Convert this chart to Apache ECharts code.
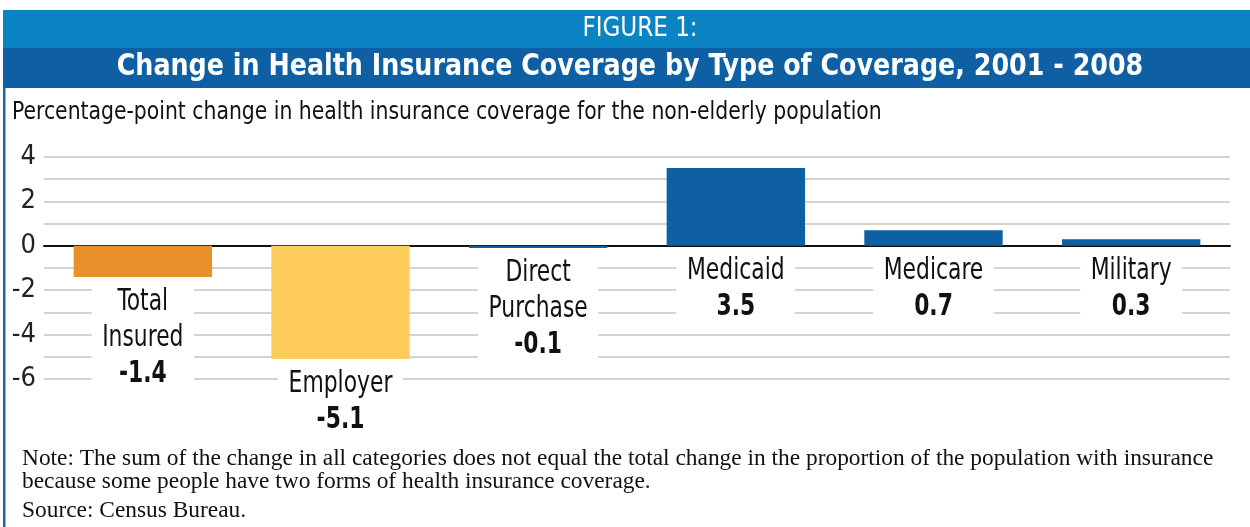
<!DOCTYPE html>
<html>
<head>
<meta charset="utf-8">
<script src="https://cdn.jsdelivr.net/npm/echarts@6/dist/echarts.min.js"></script>
<style>
html,body{margin:0;padding:0;background:#fff;}
#chart{width:1250px;height:527px;}
</style>
</head>
<body>
<div id="chart"></div>
<script>
const categories = ['Total\nInsured', 'Employer', 'Direct\nPurchase', 'Medicaid', 'Medicare', 'Military'];
const values = [-1.4, -5.1, -0.1, 3.5, 0.7, 0.3];
const barColors = ['#E8912A', '#FECC5C', '#0F5FA3', '#0F5FA3', '#0F5FA3', '#0F5FA3'];
const yTicks = [-6, -4, -2, 0, 2, 4];
const figureLabel = 'FIGURE 1:';
const titleText = 'Change in Health Insurance Coverage by Type of Coverage, 2001 - 2008';
const subtitleText = 'Percentage-point change in health insurance coverage for the non-elderly population';
const noteLines = [
  'Note: The sum of the change in all categories does not equal the total change in the proportion of the population with insurance',
  'because some people have two forms of health insurance coverage.'
];
const sourceText = 'Source: Census Bureau.';

const narrow = '"DejaVu Sans Condensed", "DejaVu Sans", sans-serif';
const serif = '"Liberation Serif", "DejaVu Serif", serif';

const chart = echarts.init(document.getElementById('chart'), null, {renderer: 'canvas'});

function labelText(i) {
  const lines = categories[i].split('\n').map(s => '{n|' + s + '}');
  lines.push('{v|' + values[i].toFixed(1) + '}');
  return lines.join('\n');
}

const option = {
  backgroundColor: '#fff',
  animation: false,
  grid: {left: 44, right: 20, top: 157, bottom: 148, containLabel: false},
  xAxis: {
    type: 'category',
    data: categories,
    axisLine: {show: true, onZero: true, lineStyle: {color: '#111', width: 2}},
    axisTick: {show: false},
    axisLabel: {show: false},
    splitLine: {show: false}
  },
  yAxis: {
    type: 'value',
    min: -6, max: 4, interval: 1,
    axisLine: {show: false},
    axisTick: {show: false},
    axisLabel: {
      margin: 8,
      fontFamily: narrow,
      fontSize: 27,
      color: '#222',
      formatter: v => (yTicks.indexOf(v) >= 0 ? String(v) : '')
    },
    splitLine: {show: true, lineStyle: {color: '#c4c4c4', width: 1.5}}
  },
  series: [{
    type: 'bar',
    data: values.map((v, i) => ({value: v, itemStyle: {color: barColors[i]}})),
    barCategoryGap: '30%',
    z: 2
  }, {
    type: 'custom',
    data: values.map((v, i) => [i, v]),
    z: 3,
    silent: true,
    renderItem: (params, api) => {
      const i = api.value(0);
      const v = api.value(1);
      const end = api.coord([i, v]);
      const zero = api.coord([i, 0]);
      const top = Math.max(end[1], zero[1]) + 7;
      return {
        type: 'text',
        x: end[0],
        y: top,
        scaleX: 0.81,
        style: {
          text: labelText(params.dataIndex),
          align: 'center',
          verticalAlign: 'top',
          backgroundColor: '#fff',
          padding: [0, 13, 0, 13],
          rich: {
            n: {fontFamily: narrow, fontSize: 30, lineHeight: 36, fill: '#111'},
            v: {fontFamily: narrow, fontSize: 30, lineHeight: 36, fontWeight: 'bold', fill: '#111'}
          }
        }
      };
    }
  }],
  graphic: [
    {type: 'rect', shape: {x: 3, y: 10, width: 1247, height: 38}, style: {fill: '#0A84C2'}, silent: true},
    {type: 'rect', shape: {x: 3, y: 48, width: 1247, height: 40}, style: {fill: '#0E5FA3'}, silent: true},
    {type: 'rect', shape: {x: 3, y: 88, width: 2.5, height: 439}, style: {fill: '#1A66B0'}, silent: true},
    {type: 'text', x: 640, y: 29, scaleX: 0.95, style: {text: figureLabel, fill: '#fff', font: '27px ' + narrow, textAlign: 'center', textVerticalAlign: 'middle'}},
    {type: 'text', x: 630, y: 67, scaleX: 0.91, style: {text: titleText, fill: '#fff', font: 'bold 31px ' + narrow, textAlign: 'center', textVerticalAlign: 'middle'}},
    {type: 'text', x: 12, y: 112, scaleX: 0.906, style: {text: subtitleText, fill: '#111', font: '25px ' + narrow, textAlign: 'left', textVerticalAlign: 'middle'}},
    {type: 'text', x: 22, y: 459, style: {text: noteLines[0], fill: '#111', font: '23.4px ' + serif, textAlign: 'left', textVerticalAlign: 'middle'}},
    {type: 'text', x: 22, y: 482, style: {text: noteLines[1], fill: '#111', font: '23.4px ' + serif, textAlign: 'left', textVerticalAlign: 'middle'}},
    {type: 'text', x: 22, y: 511, style: {text: sourceText, fill: '#111', font: '23.4px ' + serif, textAlign: 'left', textVerticalAlign: 'middle'}}
  ]
};
chart.setOption(option);
</script>
</body>
</html>
